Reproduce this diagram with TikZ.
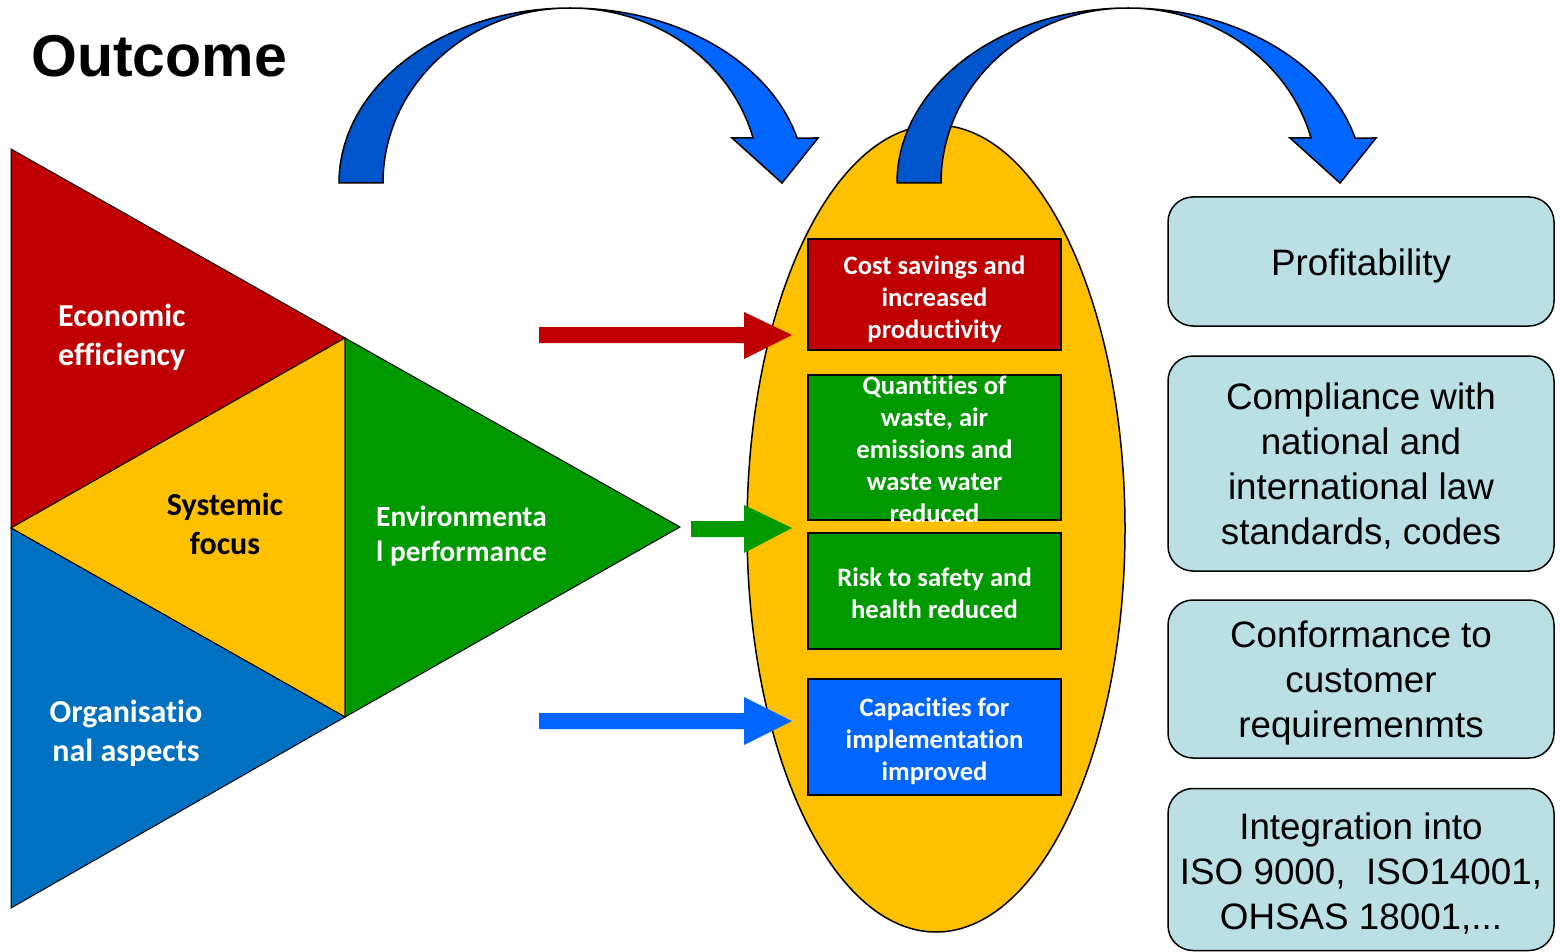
\documentclass[tikz,border=0pt]{standalone}
\usepackage{fontspec}
\setmainfont{Liberation Sans}
\newfontfamily\cfont{Carlito}[Ligatures={NoCommon,NoRare,NoContextual}]
\usetikzlibrary{shapes.geometric}
\definecolor{cred}{RGB}{192,0,0}
\definecolor{cyel}{RGB}{255,192,0}
\definecolor{cgreen}{RGB}{0,153,0}
\definecolor{ctblue}{RGB}{0,112,192}
\definecolor{cbblue}{RGB}{0,102,255}
\definecolor{cdark}{RGB}{0,84,204}
\definecolor{clight}{RGB}{187,224,227}
\newcommand\nt{t\kern0pt }
\tikzset{
  tri/.style={draw=black, line width=1pt, line join=miter},
  tlabel/.style={font=\cfont\bfseries\fontsize{32}{39}\selectfont, text=white, inner sep=0pt},
  ebox/.style={draw=black, line width=1.5pt, minimum width=253pt, inner sep=0pt},
  etext/.style={font=\cfont\bfseries\fontsize{26.6}{32}\selectfont, text=white, align=center, inner sep=0pt},
  rbox/.style={draw=black, line width=1.5pt, fill=clight, rounded corners=25pt, minimum width=386pt, inner sep=2pt, align=center},
  rtext/.style={font=\fontsize{36.8}{45}\selectfont, align=center, inner sep=0pt},
  bandline/.style={draw=black, line width=1.5pt, line join=miter}
}
\newcommand\curvedarrow[1]{%
  \begin{scope}[xshift=#1]
    \filldraw[bandline, fill=cdark] (339,183) -- (383,183)
      arc[start angle=180, end angle=270, x radius=187, y radius=175]
      arc[start angle=270, end angle=180, x radius=231, y radius=175] -- cycle;
    \filldraw[bandline, fill=cbblue] (570,8)
      arc[start angle=270, end angle=345.1, x radius=235, y radius=175]
      -- (818,138) -- (782,183) -- (732,138) -- (753,138)
      arc[start angle=345.1, end angle=270, x radius=189.5, y radius=175] -- cycle;
  \end{scope}}
\begin{document}
\begin{tikzpicture}[x=1pt,y=-1pt]
\useasboundingbox (0,0) rectangle (1560,952);
% title
\node[anchor=base west, font=\bfseries\fontsize{59}{70}\selectfont, inner sep=0pt] (title) at (31,77) {Outcome};
% triangle
\filldraw[tri, fill=cred] (11,149) -- (345,338) -- (11,528) -- cycle;
\filldraw[tri, fill=cyel] (11,528) -- (345,338) -- (345,717) -- cycle;
\filldraw[tri, fill=ctblue] (11,528) -- (345,717) -- (11,908) -- cycle;
\filldraw[tri, fill=cgreen] (345,338) -- (680,527) -- (345,717) -- cycle;
\node[tlabel, anchor=west, align=left] (econ) at (58,337) {Economic\\efficiency};
\node[tlabel, text=black, align=center] (sys) at (225,524) {Systemic\\focus};
\node[tlabel, anchor=west, align=left, font=\cfont\bfseries\fontsize{29.3}{35}\selectfont] (env) at (376,536) {Environmenta\\l performance};
\node[tlabel, align=center] (org) at (126,733) {Organisa\nt io\\nal aspects};
% ellipse
\node[ellipse, draw=black, line width=1.5pt, fill=cyel, minimum width=378pt, minimum height=807pt, inner sep=0pt] (ell) at (936,528.5) {};
% boxes in ellipse
\node[ebox, fill=cred, minimum height=111pt] (b1) at (934.5,294.5) {};
\node[etext] (t1) at (b1.center) [yshift=-5pt] {Cost savings and\\increased\\produc\nt ivity};
\node[ebox, fill=cgreen, minimum height=145pt] (b2) at (934.5,447.5) {};
\node[etext] (t2) at (b2.center) [yshift=-2pt] {Quan\nt i\nt ies of\\waste, air\\emissions and\\waste water\\reduced};
\node[ebox, fill=cgreen, minimum height=116pt] (b3) at (934.5,591) {};
\node[etext] (t3) at (b3.center) [yshift=-2pt] {Risk to safety and\\health reduced};
\node[ebox, fill=cbblue, minimum height=116pt] (b4) at (934.5,737) {};
\node[etext] (t4) at (b4.center) [yshift=-4pt] {Capaci\nt ies for\\implementa\nt ion\\improved};
% horizontal block arrows
\fill[cred] (539,327) -- (744,327) -- (744,312) -- (792,335) -- (744,359) -- (744,343) -- (539,343) -- cycle;
\fill[cgreen] (691,521) -- (744,521) -- (744,505) -- (792,528) -- (744,553) -- (744,537) -- (691,537) -- cycle;
\fill[cbblue] (539,713) -- (744,713) -- (744,697) -- (792,721) -- (744,745) -- (744,729) -- (539,729) -- cycle;
% curved arrows
\curvedarrow{0pt}
\curvedarrow{558pt}
% right boxes
\node[rbox, minimum height=129pt] (r1) at (1361,261.5) {};
\node[rtext] (rt1) at (r1.center) [yshift=-4pt] {Profitability};
\node[rbox, minimum height=215pt] (r2) at (1361,463.5) {};
\node[rtext] (rt2) at (r2.center) [yshift=-3pt] {Compliance with\\national and\\international law\\standards, codes};
\node[rbox, minimum height=158pt] (r3) at (1361,679) {};
\node[rtext] (rt3) at (r3.center) [yshift=-4pt] {Conformance to\\customer\\requiremenmts};
\node[rbox, minimum height=162pt] (r4) at (1361,869.5) {};
\node[rtext] (rt4) at (r4.center) [yshift=-4pt] {Integration into\\ISO 9000,\ \ ISO14001,\\OHSAS 18001,...};
\end{tikzpicture}
\end{document}
